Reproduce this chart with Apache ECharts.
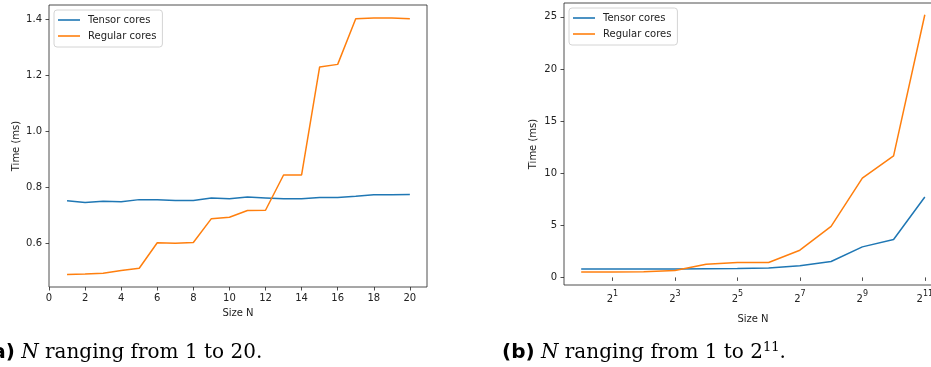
<!DOCTYPE html>
<html><head><meta charset="utf-8">
<script src="https://cdn.jsdelivr.net/npm/echarts/dist/echarts.min.js"></script>
<style>html,body{margin:0;padding:0;background:#fff}#c{width:931px;height:367px}</style>
</head><body><div id="c"></div>
<script>
// ---- data: chart (a) N = 1..20 ----
const sizesA = [1,2,3,4,5,6,7,8,9,10,11,12,13,14,15,16,17,18,19,20];
const tensorA = [0.752,0.746,0.750,0.748,0.756,0.756,0.753,0.753,0.762,0.759,0.765,0.762,0.759,0.759,0.764,0.764,0.768,0.773,0.773,0.774];
const regularA = [0.489,0.490,0.493,0.503,0.511,0.602,0.600,0.603,0.688,0.693,0.717,0.718,0.844,0.844,1.230,1.239,1.402,1.405,1.405,1.402];
const xTicksA = [0,2,4,6,8,10,12,14,16,18,20];
const yTicksA = [0.6,0.8,1.0,1.2,1.4];
// ---- data: chart (b) N = 2^0..2^11 ----
const sizesB = [1,2,4,8,16,32,64,128,256,512,1024,2048];
const tensorB = [0.80,0.80,0.80,0.80,0.82,0.85,0.90,1.11,1.53,2.93,3.63,7.71];
const regularB = [0.51,0.51,0.53,0.67,1.27,1.43,1.43,2.61,4.90,9.52,11.66,25.2];
const xTicksB = [2,8,32,128,512,2048];
const yTicksB = [0,5,10,15,20,25];
const seriesNames = ['Tensor cores','Regular cores'];
const colors = ['#1f77b4','#ff7f0e'];

const FONT = 'DejaVu Sans';
const INK = '#222';

function pairs(xs, ys){ return xs.map((x,i)=>[x,ys[i]]); }

const axisCommon = {
  axisLine:{show:false},
  axisTick:{show:true, length:3.5, lineStyle:{color:INK, width:0.8}},
  splitLine:{show:false},
  axisLabel:{color:INK, fontFamily:FONT, fontSize:10},
  nameTextStyle:{color:INK, fontFamily:FONT, fontSize:10}
};

const legendCommon = {
  orient:'vertical', data:seriesNames, icon:'rect', itemWidth:22, itemHeight:1.6, itemGap:4,
  padding:[4,6,5,4], borderColor:'#d4d4d4', borderWidth:1, borderRadius:3, backgroundColor:'#fff',
  textStyle:{fontFamily:FONT, fontSize:10, color:INK, lineHeight:12, padding:[0,0,0,3]}
};

const chart = echarts.init(document.getElementById('c'), null, {renderer:'canvas'});
chart.setOption({
  animation:false,
  backgroundColor:'#fff',
  grid:[
    {left:49, top:5, width:378, height:282, show:true, borderColor:INK, borderWidth:0.8, backgroundColor:'transparent', outerBoundsMode:'none', containLabel:false},
    {left:564, top:3, width:378, height:282, show:true, borderColor:INK, borderWidth:0.8, backgroundColor:'transparent', outerBoundsMode:'none', containLabel:false}
  ],
  legend:[
    Object.assign({left:54, top:10}, legendCommon),
    Object.assign({left:569, top:8}, legendCommon)
  ],
  xAxis:[
    Object.assign({}, axisCommon, {
      gridIndex:0, type:'value', min:0, max:20.95,
      name:'Size N', nameLocation:'middle', nameGap:21,
      axisTick:Object.assign({}, axisCommon.axisTick, {customValues:xTicksA}),
      axisLabel:Object.assign({}, axisCommon.axisLabel, {customValues:xTicksA, margin:6})
    }),
    Object.assign({}, axisCommon, {
      gridIndex:1, type:'log', logBase:2, min:Math.pow(2,-0.55), max:Math.pow(2,11.55),
      name:'Size N', nameLocation:'middle', nameGap:17,
      axisTick:Object.assign({}, axisCommon.axisTick, {customValues:xTicksB}),
      axisLabel:Object.assign({}, axisCommon.axisLabel, {
        customValues:xTicksB, margin:5, lineHeight:19.5,
        formatter:function(v){ return '2{s|' + Math.round(Math.log2(v)) + '}'; },
        rich:{s:{fontSize:8, lineHeight:8, verticalAlign:'top', color:INK, fontFamily:FONT}}
      })
    })
  ],
  yAxis:[
    Object.assign({}, axisCommon, {
      gridIndex:0, type:'value', min:0.444, max:1.451,
      name:'Time (ms)', nameLocation:'middle', nameGap:28,
      axisTick:Object.assign({}, axisCommon.axisTick, {customValues:yTicksA}),
      axisLabel:Object.assign({}, axisCommon.axisLabel, {customValues:yTicksA, margin:7,
        formatter:function(v){ return v.toFixed(1); }})
    }),
    Object.assign({}, axisCommon, {
      gridIndex:1, type:'value', min:-0.73, max:26.33,
      name:'Time (ms)', nameLocation:'middle', nameGap:26,
      axisTick:Object.assign({}, axisCommon.axisTick, {customValues:yTicksB}),
      axisLabel:Object.assign({}, axisCommon.axisLabel, {customValues:yTicksB, margin:7})
    })
  ],
  series:[
    {name:seriesNames[0], type:'line', xAxisIndex:0, yAxisIndex:0, data:pairs(sizesA,tensorA), symbol:'none', lineStyle:{width:1.5, color:colors[0]}, itemStyle:{color:colors[0]}},
    {name:seriesNames[1], type:'line', xAxisIndex:0, yAxisIndex:0, data:pairs(sizesA,regularA), symbol:'none', lineStyle:{width:1.5, color:colors[1]}, itemStyle:{color:colors[1]}},
    {name:seriesNames[0], type:'line', xAxisIndex:1, yAxisIndex:1, data:pairs(sizesB,tensorB), symbol:'none', lineStyle:{width:1.5, color:colors[0]}, itemStyle:{color:colors[0]}},
    {name:seriesNames[1], type:'line', xAxisIndex:1, yAxisIndex:1, data:pairs(sizesB,regularB), symbol:'none', lineStyle:{width:1.5, color:colors[1]}, itemStyle:{color:colors[1]}}
  ],
  graphic:[
    {type:'text', x:-17, y:341, silent:true, style:{
      text:'{b|(a)} {n|N} ranging from 1 to 20.',
      fontFamily:'DejaVu Serif', fontSize:20, lineHeight:24, fill:'#000',
      rich:{b:{fontFamily:FONT, fontWeight:'bold', fontSize:20, lineHeight:24, fill:'#000'},
            n:{fontFamily:'DejaVu Serif', fontStyle:'italic', fontSize:20, lineHeight:24, fill:'#000'}}
    }},
    {type:'text', x:502, y:341, silent:true, style:{
      text:'{b|(b)} {n|N} ranging from 1 to 2{s|11}.',
      fontFamily:'DejaVu Serif', fontSize:20, lineHeight:24, fill:'#000',
      rich:{b:{fontFamily:FONT, fontWeight:'bold', fontSize:20, lineHeight:24, fill:'#000'},
            n:{fontFamily:'DejaVu Serif', fontStyle:'italic', fontSize:20, lineHeight:24, fill:'#000'},
            s:{fontFamily:'DejaVu Serif', fontSize:13, lineHeight:13, verticalAlign:'top', fill:'#000'}}
    }}
  ]
});
</script>
</body></html>
